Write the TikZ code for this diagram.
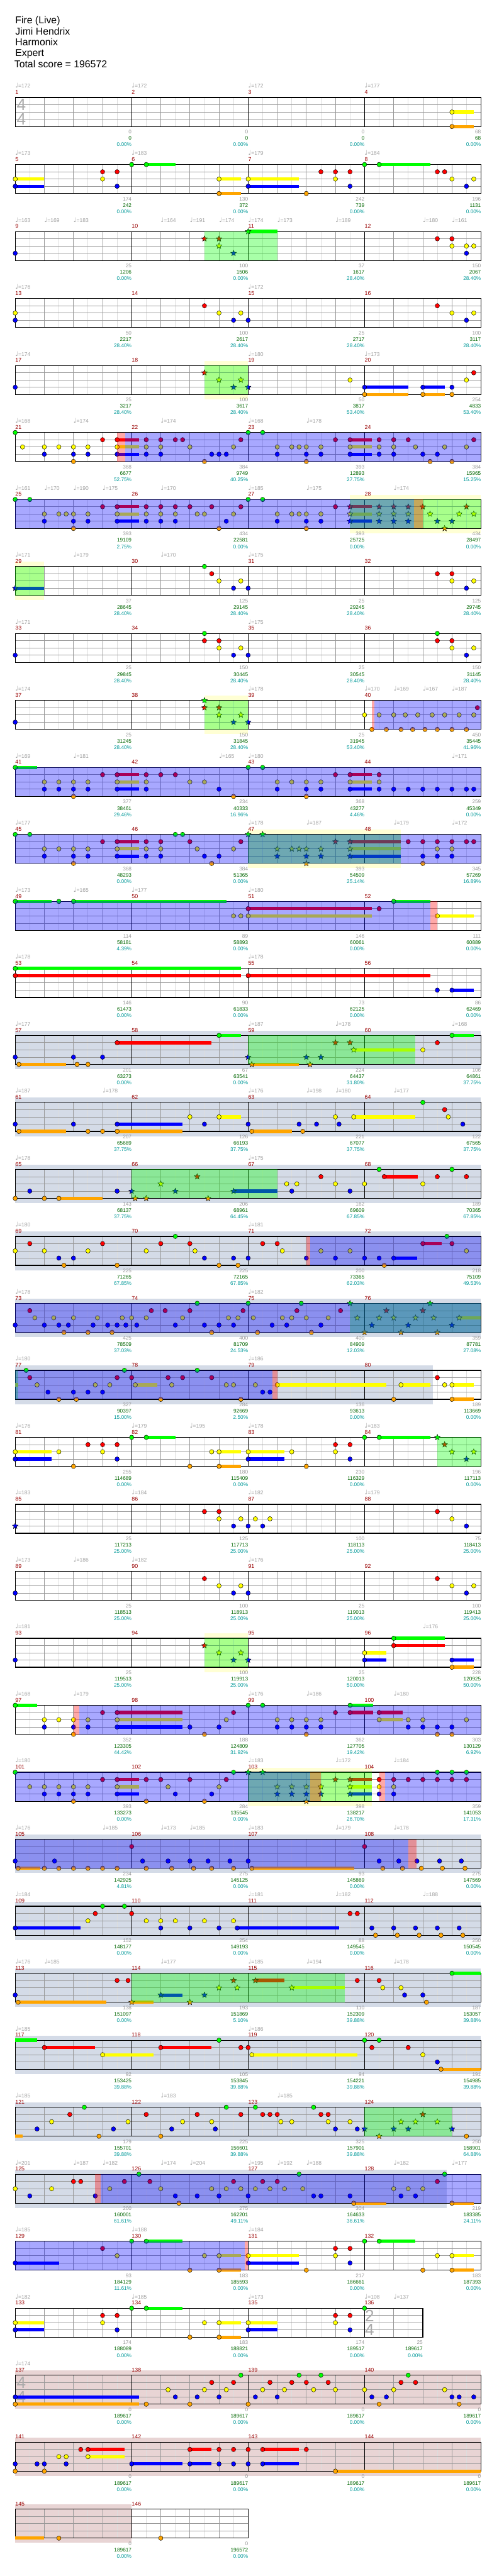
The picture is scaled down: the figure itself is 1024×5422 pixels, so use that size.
\documentclass[tikz,border=0pt]{standalone}
\usepackage{fontspec}
\setmainfont{Liberation Sans}
\newfontfamily\symf{DejaVu Sans}
\usetikzlibrary{shapes.geometric}

\definecolor{lane0}{HTML}{00FF00}
\definecolor{lane1}{HTML}{FF0000}
\definecolor{lane2}{HTML}{FFFF00}
\definecolor{lane3}{HTML}{0000FF}
\definecolor{lane4}{HTML}{FFA500}
\definecolor{cfretlt}{HTML}{DDDDDD}
\definecolor{cfretbt}{HTML}{999999}
\definecolor{cgray}{HTML}{D4DBE7}
\definecolor{cyel}{HTML}{FFFFD4}
\definecolor{cbrown}{HTML}{E8D4D4}
\definecolor{ctempo}{HTML}{A0A0A0}
\definecolor{cmnum}{HTML}{990000}
\definecolor{cbar}{HTML}{999999}
\definecolor{ccum}{HTML}{006600}
\definecolor{cpct}{HTML}{009999}
\definecolor{ctsig}{HTML}{ABABAB}

\tikzset{
  gem/.style={ellipse, draw=black, line width=0.45pt, inner sep=0pt,
    minimum width=6.9pt, minimum height=7.2pt},
  spgem/.style={star, star points=5, star point ratio=2.25, draw=black,
    line width=0.45pt, inner sep=0pt, minimum size=9.5pt},
  fretlight/.style={draw=cfretlt, line width=0.75pt},
  fretbeat/.style={draw=cfretbt, line width=0.75pt},
  fretbar/.style={draw=black, line width=0.75pt},
  fretedge/.style={draw=black, line width=1.2pt},
  tempomark/.style={anchor=base west, inner sep=0pt, text=ctempo,
    font=\fontsize{8.5}{9}\selectfont},
  mnum/.style={anchor=base west, inner sep=0pt, text=cmnum,
    font=\fontsize{8.8}{9}\selectfont},
  ptsbar/.style={anchor=base east, inner sep=0pt, text=cbar,
    font=\fontsize{8.2}{9}\selectfont},
  ptscum/.style={ptsbar, text=ccum},
  ptspct/.style={ptsbar, text=cpct},
  tsigdigit/.style={inner sep=0pt, text=ctsig, font=\fontsize{26}{26}\selectfont},
  songinfo/.style={anchor=base west, inner sep=0pt,
    font=\fontsize{15.7}{18}\selectfont},
}

% one row of four measures: staff top (px), content
\newcommand{\chartrow}[2]{\begin{scope}[shift={(32,#1)}, x=11.484pt]#2\end{scope}}
\newcommand{\fretboard}[1]{%
  \foreach \i in {2,6,...,62} {\ifdim\i pt<#1pt \draw[fretlight] (\i,0) -- (\i,61);\fi}
  \foreach \i in {4,8,...,60} {\ifdim\i pt<#1pt \draw[fretbeat] (\i,0) -- (\i,61);\fi}
  \foreach \j in {15.25,30.5,45.75} {\draw[fretbeat] (0,\j) -- (#1,\j);}
  \foreach \i in {16,32,48} {\ifdim\i pt<#1pt \draw[fretbar] (\i,0) -- (\i,61);\fi}
  \draw[fretedge] (0,0) rectangle (#1,61);}
\newcommand{\timesig}[3]{\node[tsigdigit] at (#1,15.5) {#2};
  \node[tsigdigit] at (#1,45.5) {#3};}
\newcommand{\band}[3]{\fill[#1] (#2,-10) rectangle (#3,71);}
\newcommand{\spzone}[2]{\fill[lane0, opacity=0.34] (#1,0) rectangle (#2,61);}
\newcommand{\odzone}[2]{\fill[lane3, opacity=0.34] (#1,0) rectangle (#2,61);}
\newcommand{\actzone}[2]{\fill[lane1, opacity=0.34] (#1,0) rectangle (#2,61);}
\newcommand{\holds}[2]{\foreach \a/\b in {#2}
  {\fill[lane#1] (\a,{#1*15.25-3.5}) rectangle (\b,{#1*15.25+3.5});}}
\newcommand{\gems}[2]{\foreach \a in {#2} {\node[gem, fill=lane#1] at (\a,{#1*15.25}) {};}}
\newcommand{\spgems}[2]{\foreach \a in {#2} {\node[spgem, fill=lane#1] at (\a,{#1*15.25}) {};}}
\newcommand{\tempos}[1]{\foreach \a/\b in {#1}
  {\node[tempomark] at (\a,-20) {{\symf\fontsize{10}{10}\selectfont ♩}=\b};}}
\newcommand{\mnums}[1]{\foreach \m [count=\i from 0] in {#1}
  {\node[mnum] at ({16*\i},-7) {\m};}}
\newcommand{\pts}[1]{\foreach \q/\a/\b/\c in {#1} {%
  \node[ptsbar] at (\q,76.4) {\a};
  \node[ptscum] at (\q,89.7) {\b};
  \node[ptspct] at (\q,103) {\c\%};}}

\begin{document}
\begin{tikzpicture}[x=0.75pt, y=-0.75pt]
\useasboundingbox (0,0) rectangle (1024,5422);
\fill[white] (0,0) rectangle (1024,5422);

\node[songinfo] (title) at (32,50) {Fire (Live)};
\node[songinfo] (artist) at (32,73) {Jimi Hendrix};
\node[songinfo] (charter) at (32,96) {Harmonix};
\node[songinfo] (level) at (32,119) {Expert};
\node[songinfo] (total) at (30,142) {Total score = 196572};

% measures 1-4
\chartrow{205.3}{%
 \fretboard{64} \timesig{0.85}{4}{4}
 \holds{2}{60/63} \holds{4}{60/63}
 \gems{2}{60} \gems{4}{60}
 \tempos{0/172,16/172,32/172,48/177} \mnums{1,2,3,4}
 \pts{16/0/0/0.00,32/0/0/0.00,48/0/0/0.00,64/68/68/0.00}}

% measures 5-8
\chartrow{346.3}{%
 \fretboard{64}
 \holds{0}{18/22,50/57} \holds{2}{0/4,28/31,32/39} \holds{3}{0/4,32/39} \holds{4}{28/31}
 \gems{0}{16,18,48,50} \gems{1}{12,14,42,44,46,58,59} \gems{2}{0,12,28,32,44,60,63}
 \gems{3}{0,14,32,46,62} \gems{4}{28,40}
 \tempos{0/173,16/183,32/179,48/184} \mnums{5,6,7,8}
 \pts{16/174/242/0.00,32/130/372/0.00,48/242/739/0.00,64/196/1131/0.00}}

% measures 9-12
\chartrow{487.3}{%
 \fretboard{64}
 \holds{0}{32/36}
 \spgems{0}{32} \spgems{1}{26,28} \spgems{2}{28} \spgems{3}{30}
 \gems{1}{58,60} \gems{2}{60,62,63} \gems{3}{0,62}
 \spzone{26}{36}
 \tempos{0/163,4/169,8/183,20/164,24/191,28/174,32/174,36/173,44/189,56/180,60/161}
 \mnums{9,10,11,12}
 \pts{16/25/1206/0.00,32/100/1506/0.00,48/37/1617/28.40,64/150/2067/28.40}}

% measures 13-16
\chartrow{628.3}{%
 \fretboard{64}
 \gems{1}{26,58} \gems{2}{0,28,31,60,63} \gems{3}{0,30,32,62}
 \tempos{0/176,32/172} \mnums{13,14,15,16}
 \pts{16/50/2217/28.40,32/100/2617/28.40,48/25/2717/28.40,64/100/3117/28.40}}

% measures 17-20
\chartrow{769.3}{%
 \band{cyel}{26}{32} \fretboard{64}
 \holds{3}{48/54,56/59} \holds{4}{48/54,56/59}
 \spgems{1}{26} \spgems{2}{28,31} \spgems{3}{30,32}
 \gems{1}{63} \gems{2}{46,62} \gems{3}{0,48,56,60} \gems{4}{48,56,60}
 \spzone{26}{32}
 \tempos{0/174,32/180,48/173} \mnums{17,18,19,20}
 \pts{16/25/3217/28.40,32/100/3617/28.40,48/50/3817/53.40,64/254/4833/53.40}}

% measures 21-24
\chartrow{910.3}{%
 \fretboard{64}
 \holds{1}{14/17,46/49} \holds{2}{14/17,46/49} \holds{3}{14/17,46/49}
 \gems{0}{0,32,34}
 \gems{1}{12,14,18,20,22,23,31,44,46,50,52,54,63}
 \gems{2}{1,4,6,8,10,14,18,20,24,30,36,38,39,40,42,46,50,52,55,59,62}
 \gems{3}{4,8,10,14,18,20,27,28,29,36,40,42,46,50,52,56,58}
 \gems{4}{8,26,40,57,60}
 \odzone{15.1}{64} \actzone{14}{15.1}
 \tempos{0/168,8/174,20/174,32/168,40/178} \mnums{21,22,23,24}
 \pts{16/368/6677/52.75,32/384/9749/40.25,48/393/12893/27.75,64/384/15965/15.25}}

% measures 25-28
\chartrow{1051.3}{%
 \band{cyel}{46}{64} \fretboard{64}
 \holds{1}{14/17,46/49} \holds{2}{14/17,46/49} \holds{3}{14/17,46/49}
 \gems{0}{0,2,32,34}
 \gems{1}{12,14,18,20,22,24,27,31,44} \spgems{1}{46,50,52,54,56,62}
 \gems{2}{4,6,7,8,10,14,18,20,22,25,26,30,36,38,39,40,42} \spgems{2}{46,50,52,54,57,61,63}
 \gems{3}{4,8,10,14,18,20,22,29,36,40,42} \spgems{3}{46,50,52,54,58,60}
 \gems{4}{8,28,40} \spgems{4}{59}
 \spzone{46}{64} \odzone{0}{54.8} \actzone{54.8}{56}
 \tempos{0/161,4/170,8/190,12/175,20/170,32/185,40/175,52/174} \mnums{25,26,27,28}
 \pts{16/393/19109/2.75,32/434/22581/0.00,48/393/25725/0.00,64/434/28497/0.00}}

% measures 29-32
\chartrow{1192.3}{%
 \band{cyel}{0}{4} \fretboard{64}
 \holds{3}{0/4} \spgems{3}{0}
 \gems{0}{26} \gems{1}{27,58,60} \gems{2}{28,31,60,63} \gems{3}{30,32,62}
 \spzone{0}{4}
 \tempos{0/171,8/179,20/170,32/175} \mnums{29,30,31,32}
 \pts{16/37/28645/28.40,32/125/29145/28.40,48/25/29245/28.40,64/125/29745/28.40}}

% measures 33-36
\chartrow{1333.3}{%
 \fretboard{64}
 \gems{0}{26,58} \gems{1}{26,28,58,60} \gems{2}{28,31,60,63} \gems{3}{0,30,32,62}
 \tempos{0/171,32/175} \mnums{33,34,35,36}
 \pts{16/25/29845/28.40,32/150/30445/28.40,48/25/30545/28.40,64/150/31145/28.40}}

% measures 37-40
\chartrow{1474.3}{%
 \band{cyel}{26}{32} \fretboard{64}
 \spgems{0}{26} \spgems{1}{26,28} \spgems{2}{28,31} \spgems{3}{30,32}
 \gems{1}{63.5} \gems{2}{48,50,52,53.6,55.3,57.3,59,61,63} \gems{3}{0}
 \gems{4}{49,51,53,54.6,56.3,58,60,62}
 \spzone{26}{32} \odzone{49.35}{64} \actzone{49}{49.35}
 \tempos{0/174,32/178,48/170,52/169,56/167,60/187} \mnums{37,38,39,40}
 \pts{16/25/31245/28.40,32/150/31845/28.40,48/25/31945/53.40,64/450/35445/41.96}}

% measures 41-44
\chartrow{1615.3}{%
 \fretboard{64}
 \holds{0}{0/3} \holds{1}{14/17,46/49} \holds{2}{14/17,46/49} \holds{3}{14/17,46/49}
 \gems{0}{0,32,34} \gems{1}{12,14,18,20,22,44,46,50}
 \gems{2}{4,6,8,10,14,18,24,26,36,38,40,42,46,50}
 \gems{3}{4,6,8,10,14,18,28,36,40,42,46,50,52,54,56,58,60,62,63}
 \gems{4}{8,30,40}
 \odzone{0}{64}
 \tempos{0/169,8/181,28/165,32/180,60/171} \mnums{41,42,43,44}
 \pts{16/377/38461/29.46,32/234/40333/16.96,48/368/43277/4.46,64/259/45349/0.00}}

% measures 45-48
\chartrow{1756.3}{%
 \band{cyel}{32}{53} \fretboard{64}
 \holds{1}{14/17,46/53} \holds{2}{14/17,46/53} \holds{3}{14/17,46/53}
 \gems{0}{0,2,22,23} \spgems{0}{32,34}
 \gems{1}{12,14,18,20,24,31,54,56,58,60,62,63} \spgems{1}{44,46}
 \gems{2}{4,6,8,10,14,18,20,25,30,58,60} \spgems{2}{36,38,39,40,42,46}
 \gems{3}{4,8,10,14,18,20,26,28,56,58,60} \spgems{3}{36,40,42,46}
 \gems{4}{8,27,56} \spgems{4}{40}
 \spzone{32}{53} \odzone{0}{64}
 \tempos{0/177,32/178,40/187,52/179,60/172} \mnums{45,46,47,48}
 \pts{16/368/48293/0.00,32/384/51365/0.00,48/393/54509/25.14,64/345/57269/16.89}}

% measures 49-52
\chartrow{1897.3}{%
 \fretboard{64}
 \holds{0}{0/5,8/29,52/57} \holds{1}{32/49} \holds{2}{32/49,58/63}
 \gems{0}{0,6,8,52} \gems{1}{32,50} \gems{2}{30,31,32,58}
 \odzone{0}{57} \actzone{57}{58}
 \tempos{0/173,8/165,16/177,32/180} \mnums{49,50,51,52}
 \pts{16/114/58181/4.39,32/89/58893/0.00,48/146/60061/0.00,64/111/60889/0.00}}

% measures 53-56
\chartrow{2038.3}{%
 \fretboard{64}
 \holds{0}{0/31} \holds{1}{0/31,32/57} \holds{3}{60/63}
 \gems{0}{0} \gems{1}{0,32} \gems{3}{58,60}
 \tempos{0/178,32/178} \mnums{53,54,55,56}
 \pts{16/146/61473/0.00,32/90/61833/0.00,48/73/62125/0.00,64/86/62469/0.00}}

% measures 57-60
\chartrow{2179.3}{%
 \band{cgray}{0}{64} \fretboard{64}
 \holds{0}{28/31,60/63} \holds{1}{14/27} \holds{2}{46.5/55} \holds{4}{0.5/7,32.5/39}
 \gems{0}{28,60} \gems{1}{14,58} \spgems{1}{44,46}
 \gems{2}{56} \spgems{2}{46.5}
 \gems{3}{0,8,12} \spgems{3}{32,40,42}
 \gems{4}{0.5,8.5,10} \spgems{4}{32.5,40.5}
 \spzone{32}{55}
 \tempos{0/177,32/187,44/178,60/168} \mnums{57,58,59,60}
 \pts{16/201/63273/0.00,32/67/63541/0.00,48/224/64437/31.80,64/106/64861/37.75}}

% measures 61-64
\chartrow{2320.3}{%
 \band{cgray}{0}{64} \fretboard{64}
 \holds{2}{28/31,46.5/55} \holds{3}{14/23} \holds{4}{0.5/7,14/23,32.5/38}
 \gems{0}{56} \gems{1}{59} \gems{2}{24,28,44,46.5,59.5}
 \gems{3}{0,8,14,26,32,39,41.4,44.5,61.5}
 \gems{4}{0.5,10,12,14,32.5,39.5}
 \tempos{0/187,12/178,32/176,40/198,44/180,52/177} \mnums{61,62,63,64}
 \pts{16/207/65689/37.75,32/126/66193/37.75,48/221/67077/37.75,64/122/67565/37.75}}

% measures 65-68
\chartrow{2461.3}{%
 \band{cgray}{0}{64} \fretboard{64}
 \holds{1}{50.7/55.3} \holds{3}{30/36} \holds{4}{6/12}
 \spgems{1}{25} \spgems{2}{20} \spgems{3}{16,22,30} \spgems{4}{16.5,18,26.5}
 \gems{0}{50,60} \gems{1}{42,50.7,58,62} \gems{2}{37.3,38.7,44,48,56}
 \gems{3}{2,14,38,46} \gems{4}{0,4,6}
 \spzone{16}{36}
 \tempos{0/178,32/175} \mnums{65,66,67,68}
 \pts{16/143/68137/37.75,32/206/68961/64.45,48/162/69609/67.85,64/189/70365/67.85}}

% measures 69-72
\chartrow{2602.3}{%
 \band{cgray}{0}{64} \fretboard{64}
 \holds{1}{56/58.6} \holds{3}{52/55.2}
 \gems{0}{22,59.3} \gems{1}{2,12,20,24,34,36,56,60}
 \gems{2}{0,4,10,18,24.7,36.7,42,46,62}
 \gems{3}{6,8,26,30,32,40,44,48,50,52}
 \gems{4}{6.7,14,28,30.6,50.7}
 \odzone{40.5}{64} \actzone{40}{40.5}
 \tempos{0/180,32/181} \mnums{69,70,71,72}
 \pts{16/225/71265/67.85,32/225/72165/67.85,48/200/73365/62.03,64/218/75109/49.53}}

% measures 73-76
\chartrow{2743.3}{%
 \band{cgray}{0}{64} \fretboard{64}
 \holds{2}{61/64}
 \gems{0}{25,32,39.3} \spgems{0}{46,57}
 \gems{1}{2,18.7,20.6,24,31.3,38.7,44.7} \spgems{1}{51,56}
 \gems{2}{2.7,5.3,8,11.3,14.7,16,18,23,29.3,30.6,32.7,36.7,38,40,43}
 \spgems{2}{47,50,52,55,57.5,61}
 \gems{3}{0,4,6,7.3,10.7,12.7,14,15.2,16.7,22,26,28,30,35.3,37.3,42} \spgems{3}{49,54,60}
 \gems{4}{6.7,10,13.3,27,33.3,40.7} \spgems{4}{48,53,58}
 \spzone{46}{64} \odzone{0}{64}
 \tempos{0/178,32/182} \mnums{73,74,75,76}
 \pts{16/425/78509/37.03,32/400/81709/24.53,48/400/84909/12.03,64/359/87781/27.08}}

% measures 77-80
\chartrow{2884.3}{%
 \band{cgray}{0}{57.4} \fretboard{64}
 \holds{2}{0/0.45,16.5/19.5,36/51,53/57,60/63} \holds{4}{60/63}
 \gems{0}{1.5,15,25} \gems{1}{2,14,16,21,23,27,58}
 \gems{2}{3,11,13,16.5,21.5,29,30,33,36,53,59,60}
 \gems{3}{4.5,8,10,12,34,35} \gems{4}{6,8.4,20,31,52,60}
 \spzone{0}{0.45} \odzone{0}{35.3} \actzone{35.3}{36}
 \tempos{0/180,32/186} \mnums{77,78,79,80}
 \pts{16/327/90397/15.00,32/284/92669/2.50,48/136/93613/0.00,64/189/113669/0.00}}

% measures 81-84
\chartrow{3025.3}{%
 \fretboard{64}
 \holds{0}{18/22,50/57} \holds{2}{0/5,28/31,32/37} \holds{3}{0/5,32/37} \holds{4}{28/31}
 \gems{0}{16,18,48,50} \spgems{0}{58}
 \gems{1}{10,12,14,44,46} \spgems{1}{59}
 \gems{2}{0,6,12,27,28,32,38,44} \spgems{2}{60,63}
 \gems{3}{0,14,32,46} \spgems{3}{62}
 \gems{4}{8,24,28,40}
 \spzone{58}{64}
 \tempos{0/176,16/179,24/195,32/178,48/183} \mnums{81,82,83,84}
 \pts{16/255/114689/0.00,32/180/115409/0.00,48/230/116329/0.00,64/196/117113/0.00}}

% measures 85-88
\chartrow{3166.3}{%
 \fretboard{64}
 \spgems{3}{0}
 \gems{1}{26,28,58} \gems{2}{28,31,33,35,60} \gems{3}{30,32,34,62}
 \tempos{0/183,16/184,32/182,48/179} \mnums{85,86,87,88}
 \pts{16/25/117213/25.00,32/125/117713/25.00,48/100/118113/25.00,64/75/118413/25.00}}

% measures 89-92
\chartrow{3307.3}{%
 \fretboard{64}
 \gems{1}{26,58} \gems{2}{28,31,60,63} \gems{3}{0,30,32,62}
 \tempos{0/173,8/186,16/182,32/176} \mnums{89,90,91,92}
 \pts{16/25/118513/25.00,32/100/118913/25.00,48/25/119013/25.00,64/100/119413/25.00}}

% measures 93-96
\chartrow{3448.3}{%
 \band{cyel}{26}{32} \fretboard{64}
 \holds{0}{52/59} \holds{1}{52/59} \holds{2}{48/51} \holds{3}{48/51,60/63} \holds{4}{60/63}
 \spgems{1}{26} \spgems{2}{28,31} \spgems{3}{30,32}
 \gems{0}{52} \gems{1}{52} \gems{2}{48} \gems{3}{0,48,60} \gems{4}{60}
 \spzone{26}{32}
 \tempos{0/181,56/176} \mnums{93,94,95,96}
 \pts{16/25/119513/25.00,32/100/119913/25.00,48/25/120013/50.00,64/228/120925/50.00}}

% measures 97-100
\chartrow{3589.3}{%
 \fretboard{64}
 \holds{0}{0/3,46/49.2} \holds{1}{14/23,46/49.2,50/53.2} \holds{2}{14/23,50/53.2} \holds{3}{14/23}
 \gems{0}{0,32,34,46} \gems{1}{12,14,30,44,46,50}
 \gems{2}{4,6,8,10,14,29,36,38,40,42,50,54,56,62}
 \gems{3}{4,8,10,14,24,28,36,38,40,42,54,56,58,60}
 \gems{4}{8,26,40,58,60}
 \odzone{8.8}{64} \actzone{8}{8.8}
 \tempos{0/168,8/179,32/176,40/186,52/180} \mnums{97,98,99,100}
 \pts{16/352/123305/44.42,32/188/124809/31.92,48/362/127705/19.42,64/303/130129/6.92}}

% measures 101-104
\chartrow{3730.3}{%
 \band{cyel}{32}{49} \fretboard{64}
 \holds{1}{14/17,46/49} \holds{2}{14/17,46/49} \holds{3}{14/17,46/49}
 \gems{0}{0,30,58,60,62} \spgems{0}{32,34}
 \gems{1}{12,14,18,20,24,29,50,52,54,56,58,60,62} \spgems{1}{44,46}
 \gems{2}{2,4,6,8,10,14,21,28,50,52} \spgems{2}{36,38,40,42,46}
 \gems{3}{4,6,8,10,14,22,27,50,52} \spgems{3}{36,38,40,42,46}
 \gems{4}{8,18,26} \spgems{4}{40}
 \spzone{32}{49} \odzone{0}{40.5} \odzone{50.8}{64}
 \actzone{40.5}{42} \actzone{50}{50.8}
 \tempos{0/180,32/183,44/172,52/184} \mnums{101,102,103,104}
 \pts{16/393/133273/0.00,32/284/135545/0.00,48/398/138217/26.70,64/359/141053/17.31}}

% measures 105-108
\chartrow{3871.3}{%
 \band{cgray}{0}{64} \fretboard{64}
 \holds{4}{0.4/3.4,32.5/46.6}
 \gems{1}{16,48}
 \gems{3}{0,5.4,17.5,21,24,26.5,29.5,32,50,52.7,55.2,58.3,61.3}
 \gems{4}{0.4,4,6,8,10,12,14,18,21.5,24.5,27,30,32.5,50.5,53.2,55.8,58.7,61.8}
 \odzone{0}{54} \actzone{54}{55.1}
 \tempos{0/176,12/185,20/173,24/185,32/183,44/179,52/178} \mnums{105,106,107,108}
 \pts{16/234/142925/4.81,32/275/145125/0.00,48/93/145869/0.00,64/275/147569/0.00}}

% measures 109-112
\chartrow{4012.3}{%
 \band{cgray}{0}{64} \fretboard{64}
 \holds{3}{0/9,30.5/44.5}
 \gems{0}{12,15} \gems{1}{11,16,46,47} \gems{2}{10,18,20,22,26,30}
 \gems{3}{0,20,24,28,30.5,49,52,55,58,61} \gems{4}{49.5,52.5,55.5,58.5,61.5}
 \tempos{0/184,32/181,44/182,56/188} \mnums{109,110,111,112}
 \pts{16/152/148177/0.00,32/254/149193/0.00,48/88/149545/0.00,64/250/150545/0.00}}

% measures 113-116
\chartrow{4153.3}{%
 \band{cgray}{0}{64} \fretboard{64}
 \holds{0}{60/64} \holds{1}{33/37} \holds{2}{38/45.3} \holds{3}{20/23} \holds{4}{0.4/12.5,16/19}
 \gems{0}{60} \gems{1}{14,15.5,47,50} \spgems{1}{30,33}
 \gems{2}{50.5,53} \spgems{2}{28,30.5,38}
 \gems{3}{0,53.5,56} \spgems{3}{20,26}
 \gems{4}{0.4,56.5} \spgems{4}{16,24}
 \spzone{16}{45.3}
 \tempos{0/176,4/185,20/177,32/185,40/194,52/178} \mnums{113,114,115,116}
 \pts{16/138/151097/0.00,32/193/151869/5.10,48/110/152309/39.88,64/187/153057/39.88}}

% measures 117-120
\chartrow{4294.3}{%
 \band{cgray}{0}{64} \fretboard{64}
 \holds{0}{0/3} \holds{1}{4/11,20/27} \holds{2}{12/19,32.5/47} \holds{4}{58.5/64}
 \gems{0}{28,48,50} \gems{1}{4,20,31,32,49,54} \gems{2}{12,32.5,56}
 \gems{3}{58} \gems{4}{58.5}
 \tempos{0/185,32/186} \mnums{117,118,119,120}
 \pts{16/92/153425/39.88,32/105/153845/39.88,48/94/154221/39.88,64/191/154985/39.88}}

% measures 121-124
\chartrow{4435.3}{%
 \band{cgray}{0}{64} \fretboard{64}
 \holds{4}{0/1}
 \gems{0}{9.5,29,33,41}
 \gems{1}{7.5,18,25,31,34,35,36,42,43} \spgems{1}{56}
 \gems{2}{5,15.5,23,27,36.5,38,43,46} \spgems{2}{53,55,58}
 \gems{3}{3,13.5,21.5,27.5,44,47} \spgems{3}{48,52,54,60}
 \gems{4}{11.5,20,62} \spgems{4}{50}
 \spzone{48}{60}
 \tempos{0/185,20/183,36/185} \mnums{121,122,123,124}
 \pts{16/179/155701/39.88,32/225/156601/39.88,48/325/157901/39.88,64/250/158901/64.88}}

% measures 125-128
\chartrow{4576.3}{%
 \band{cgray}{0}{59.3} \fretboard{64}
 \holds{4}{46.5/51,60/63}
 \gems{0}{17,39,59} \gems{1}{8,9,15,18.5,30,34,36,58}
 \gems{2}{0,5,13,20,27,29,31,33,35,37,39.5,52,54,56}
 \gems{3}{2,11,22,25,28,32,41,42,46,53,55}
 \gems{4}{22.5,46.5,60}
 \odzone{11.75}{64} \actzone{11}{11.75}
 \tempos{0/201,8/187,12/182,20/174,24/204,32/195,36/192,40/188,52/182,60/177}
 \mnums{125,126,127,128}
 \pts{16/200/160001/61.61,32/275/162201/49.11,48/304/164633/36.61,64/219/183385/24.11}}

% measures 129-132
\chartrow{4717.3}{%
 \fretboard{64}
 \holds{0}{18/23,50/55} \holds{2}{28/31,32/39,60/63} \holds{3}{0/6,32/39} \holds{4}{28/31,60/63}
 \gems{0}{16,18,48,50} \gems{1}{12,44,46} \gems{2}{14,26,28,32,44,58,60}
 \gems{3}{0,32,46} \gems{4}{24,28,40,56,60}
 \odzone{0}{31.5} \actzone{31.5}{32}
 \tempos{0/185,16/188,32/184} \mnums{129,130,131,132}
 \pts{16/93/184129/11.61,32/183/185593/0.00,48/217/186661/0.00,64/183/187393/0.00}}

% measures 133-136
\chartrow{4858.3}{%
 \fretboard{56} \timesig{48.7}{2}{4}
 \holds{0}{18/23} \holds{2}{0/4,28/31,32/36} \holds{3}{0/4,32/36} \holds{4}{28/31}
 \gems{0}{16,18,48} \gems{1}{12,14,44,46} \gems{2}{0,12,26,28,32,44}
 \gems{3}{0,14,32,46} \gems{4}{24,28}
 \tempos{0/182,16/185,32/173,48/108,52/137} \mnums{133,134,135,136}
 \pts{16/174/188089/0.00,32/183/188821/0.00,48/174/189517/0.00,56/25/189617/0.00}}

% measures 137-140
\chartrow{4999.3}{%
 \band{cbrown}{0}{64} \fretboard{64} \timesig{0.85}{4}{4}
 \holds{3}{0/17} \holds{4}{0/17}
 \gems{0}{31,39,42,54} \gems{1}{27,30,35,38,40,43,53,55}
 \gems{2}{21,26,29,34,37,41,44,48,52,59}
 \gems{3}{0,22,25,28,33,36,49,51,60,61,63} \gems{4}{0,18,24,32,50,61}
 \tempos{0/174} \mnums{137,138,139,140}
 \pts{16/0/189617/0.00,32/0/189617/0.00,48/0/189617/0.00,64/0/189617/0.00}}

% measures 141-144
\chartrow{5140.3}{%
 \band{cbrown}{0}{64} \fretboard{64}
 \holds{1}{10/15,24/27,34/39} \holds{2}{10/15} \holds{3}{16/23,24/27,34/39} \holds{4}{44/64}
 \gems{1}{9,10,24,28,30,32,34,40} \gems{2}{6,7,10}
 \gems{3}{0,3,4,7,16,24,28,30,32,34} \gems{4}{0,4,44}
 \mnums{141,142,143,144}
 \pts{16/0/189617/0.00,32/0/189617/0.00,48/0/189617/0.00,64/0/189617/0.00}}

% measures 145-146
\chartrow{5281.3}{%
 \band{cbrown}{0}{16} \fretboard{32}
 \holds{4}{0/4} \gems{4}{6,20}
 \mnums{145,146}
 \pts{16/0/189617/0.00,32/0/196572/0.00}}

\end{tikzpicture}
\end{document}
